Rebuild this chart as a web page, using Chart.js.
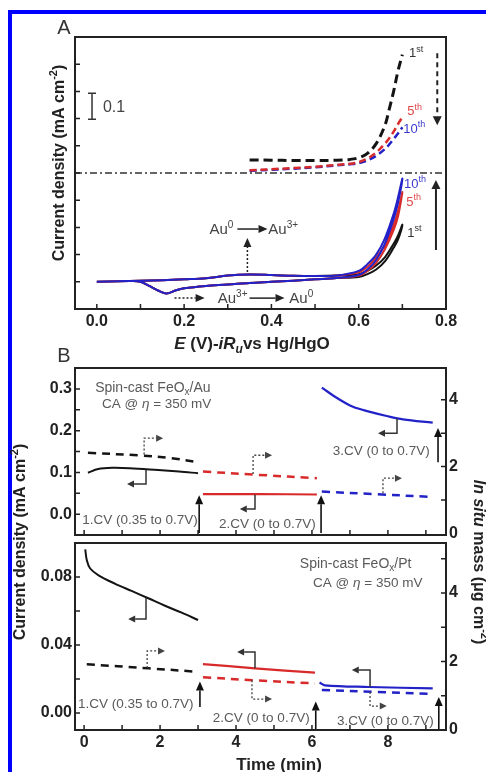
<!DOCTYPE html>
<html><head><meta charset="utf-8">
<script src="https://cdn.jsdelivr.net/npm/chart.js@4.4.1/dist/chart.umd.min.js"></script>
<style>
html,body{margin:0;padding:0;background:#fff;width:486px;height:772px;overflow:hidden;}
#frame{position:absolute;left:8px;top:10px;width:478px;height:762px;border-left:4px solid #0000ff;border-top:4px solid #0000ff;box-sizing:border-box;}
canvas{position:absolute;left:0;top:0;}
</style></head><body>
<div id="frame"></div>
<canvas id="cA" width="486" height="772"></canvas>
<canvas id="cB1" width="486" height="772"></canvas>
<canvas id="cB2" width="486" height="772"></canvas>
<script>
// ================= Panel A data (E in V, current density in mA cm-2, offset stacks) =================
const cvE   = [0,0.05,0.1,0.15,0.2,0.25,0.3,0.35,0.4,0.45,0.5,0.55,0.6,0.62,0.64,0.66,0.68,0.69,0.7,
               0.69,0.68,0.66,0.64,0.62,0.6,0.55,0.5,0.45,0.4,0.35,0.3,0.25,0.2,0.18,0.16,0.14,0.12,0.1,0.08,0.05,0];
const cv1st = [-0.400,-0.398,-0.396,-0.394,-0.391,-0.387,-0.377,-0.373,-0.375,-0.378,-0.379,-0.377,-0.372,-0.360,-0.340,-0.310,-0.260,-0.230,-0.190,
               -0.245,-0.275,-0.325,-0.355,-0.372,-0.382,-0.386,-0.391,-0.396,-0.400,-0.404,-0.410,-0.415,-0.424,-0.432,-0.443,-0.432,-0.415,-0.400,-0.397,-0.398,-0.400];
const cv5th = [-0.400,-0.398,-0.396,-0.394,-0.391,-0.387,-0.377,-0.373,-0.375,-0.378,-0.379,-0.377,-0.365,-0.345,-0.310,-0.265,-0.190,-0.140,-0.070,
               -0.160,-0.210,-0.280,-0.330,-0.360,-0.378,-0.386,-0.391,-0.396,-0.400,-0.404,-0.410,-0.415,-0.424,-0.432,-0.443,-0.432,-0.415,-0.400,-0.397,-0.398,-0.400];
const cv10th= [-0.400,-0.398,-0.396,-0.394,-0.391,-0.387,-0.377,-0.373,-0.375,-0.378,-0.379,-0.377,-0.360,-0.335,-0.300,-0.240,-0.150,-0.090,-0.020,
               -0.110,-0.170,-0.260,-0.320,-0.355,-0.375,-0.386,-0.391,-0.396,-0.400,-0.404,-0.410,-0.415,-0.424,-0.432,-0.443,-0.432,-0.415,-0.400,-0.397,-0.398,-0.400];
const scanE    = [0.35,0.4,0.45,0.5,0.55,0.58,0.6,0.62,0.64,0.66,0.67,0.68,0.69,0.7];
const scan1st  = [0.048,0.047,0.046,0.046,0.047,0.050,0.056,0.072,0.108,0.175,0.235,0.300,0.375,0.435];
const scan5th  = [0.010,0.014,0.018,0.023,0.030,0.034,0.040,0.053,0.075,0.108,0.128,0.152,0.180,0.205];
const scan10th = [0.008,0.012,0.016,0.021,0.028,0.032,0.036,0.046,0.063,0.088,0.105,0.125,0.145,0.168];
const baseE = [-0.05, 0.8];
const baseJ = [0, 0];
const axA_xTicks  = [0, 0.2, 0.4, 0.6, 0.8];
const axA_xLabels = ['0.0','0.2','0.4','0.6','0.8'];
const axA_xMinor  = [0.1, 0.3, 0.5, 0.7];
const axA_yTicks  = [-0.4,-0.3,-0.2,-0.1,0,0.1,0.2,0.3,0.4];

// ================= Panel B data (time in min) =================
// FeOx/Au
const auT1  = [0.1,0.37,0.74,1.2,1.95,2.5,3.0];
const auJ1  = [0.099,0.108,0.111,0.110,0.1055,0.102,0.098];
const auTm1 = [0.1,1.5,2.3,3.0];
const auM1  = [2.41,2.33,2.25,2.13];
const auT2  = [3.13,4.6,6.13];
const auJ2  = [0.048,0.048,0.047];
const auM2  = [1.85,1.75,1.65];
const auT3  = [6.26,6.66,7.08,7.53,7.97,8.4,9.18];
const auJ3  = [0.303,0.278,0.257,0.245,0.235,0.227,0.219];
const auTm3 = [6.26,7.7,9.18];
const auM3  = [1.25,1.17,1.09];
// FeOx/Pt
const ptT1  = [0.03,0.07,0.16,0.38,0.82,1.25,1.69,2.13,2.57,3.0];
const ptJ1  = [0.0963,0.090,0.085,0.081,0.076,0.0718,0.0675,0.0631,0.059,0.0547];
const ptTm1 = [0.07,1.7,3.0];
const ptM1  = [1.92,1.80,1.70];
const ptT2  = [3.13,4.5,6.08];
const ptJ2  = [0.0288,0.0263,0.0237];
const ptM2  = [1.54,1.45,1.36];
const ptT3  = [6.2,6.34,7.5,9.18];
const ptJ3  = [0.0179,0.0163,0.0153,0.0145];
const ptTm3 = [6.26,7.7,9.18];
const ptM3  = [1.17,1.11,1.05];

const axB_xTicks  = [0,2,4,6,8];
const axB_xLabels = ['0','2','4','6','8'];
const axB_xMinor  = [1,3,5,7,9];
const axB1_yTicks  = [0,0.1,0.2,0.3];
const axB1_yLabels = ['0.0','0.1','0.2','0.3'];
const axB1_yMinor  = [0.05,0.15,0.25];
const axB2_yTicks  = [0,0.04,0.08];
const axB2_yLabels = ['0.00','0.04','0.08'];
const axB2_yMinor  = [0.02,0.06];
const axB_rTicks   = [0,2,4];
const axB_rLabels  = ['0','2','4'];
const axB1_rMinor  = [1,3];
const axB2_rMinor  = [1,3,5];

// ================= styling helpers =================
const BLACK = '#141414', RED = '#d82a2a', BLUE = '#2222c8';
const RED_T = '#e04848', BLUE_T = '#3a3ad0';
const FAM = "'Liberation Sans', Arial, Helvetica, sans-serif";
const zip = (xs, ys) => xs.map((x, i) => ({x: x, y: ys[i]}));

function line(xs, ys, color, w, dash, axis) {
  return {data: zip(xs, ys), borderColor: color, borderWidth: w, borderDash: dash || [],
          showLine: true, pointRadius: 0, fill: false, tension: 0.35, yAxisID: axis || 'y'};
}
function linScale(pos, min, max, ticks, labels, size, show) {
  return {
    type: 'linear', position: pos, min: min, max: max,
    afterBuildTicks: s => { s.ticks = ticks.map(v => ({value: v})); },
    afterFit: s => { if (pos === 'bottom') s.height = size; else s.width = size; },
    grid: {display: false, drawTicks: false},
    border: {display: false},
    ticks: {display: show, autoSkip: false, maxRotation: 0, padding: 3, color: '#222',
            font: {family: FAM, size: 16, weight: 'bold'},
            callback: (v, i) => labels ? labels[i] : ''}
  };
}
function rich(ctx, x, cy, parts, o) {
  const size = o.size;
  const font = p => (p.i ? 'italic ' : '') + (o.bold ? 'bold ' : '') +
                    ((p.sup || p.sub) ? Math.round(size * 0.68) : size) + 'px ' + FAM;
  let w = 0;
  for (const p of parts) { ctx.font = font(p); w += ctx.measureText(p.t).width; }
  let cx = o.align === 'center' ? x - w / 2 : (o.align === 'right' ? x - w : x);
  const base = cy + size * 0.35;
  ctx.fillStyle = o.color; ctx.textAlign = 'left'; ctx.textBaseline = 'alphabetic';
  for (const p of parts) {
    ctx.font = font(p);
    const dy = p.sup ? -size * 0.4 : (p.sub ? size * 0.22 : 0);
    ctx.fillText(p.t, cx, base + dy);
    cx += ctx.measureText(p.t).width;
  }
}
function richRot(ctx, cx, cy, ang, parts, o) {
  ctx.save(); ctx.translate(cx, cy); ctx.rotate(ang);
  rich(ctx, 0, 0, parts, Object.assign({}, o, {align: 'center'}));
  ctx.restore();
}
function arrow(ctx, pts, o) {
  ctx.save();
  ctx.strokeStyle = o.color; ctx.fillStyle = o.color; ctx.lineWidth = o.lw;
  ctx.setLineDash(o.dash || []);
  const n = pts.length, ex = pts[n-1][0], ey = pts[n-1][1], px = pts[n-2][0], py = pts[n-2][1];
  const ang = Math.atan2(ey - py, ex - px), hl = o.hl, hw = o.hw;
  const c = Math.cos(ang), s = Math.sin(ang);
  ctx.beginPath(); ctx.moveTo(pts[0][0], pts[0][1]);
  for (let i = 1; i < n - 1; i++) ctx.lineTo(pts[i][0], pts[i][1]);
  ctx.lineTo(ex - c * hl, ey - s * hl);
  ctx.stroke();
  ctx.setLineDash([]);
  ctx.beginPath(); ctx.moveTo(ex, ey);
  ctx.lineTo(ex - c * hl - s * hw, ey - s * hl + c * hw);
  ctx.lineTo(ex - c * hl + s * hw, ey - s * hl - c * hw);
  ctx.closePath(); ctx.fill();
  ctx.restore();
}
function frame(chart) {
  const ctx = chart.ctx, a = chart.chartArea;
  ctx.save(); ctx.strokeStyle = '#222'; ctx.lineWidth = 2;
  ctx.strokeRect(a.left, a.top, a.right - a.left, a.bottom - a.top);
  ctx.restore();
}
function ticksIn(chart, id, vals, len) {
  const ctx = chart.ctx, a = chart.chartArea, sc = chart.scales[id];
  ctx.save(); ctx.strokeStyle = '#222'; ctx.lineWidth = 1.5; ctx.beginPath();
  for (const v of vals) {
    const p = sc.getPixelForValue(v);
    if (sc.isHorizontal()) { ctx.moveTo(p, a.bottom); ctx.lineTo(p, a.bottom - len); }
    else if (sc.position === 'right') { ctx.moveTo(a.right, p); ctx.lineTo(a.right - len, p); }
    else { ctx.moveTo(a.left, p); ctx.lineTo(a.left + len, p); }
  }
  ctx.stroke(); ctx.restore();
}

// ================= annotation layout (data coordinates) =================
const annA = {
  cycles: [
    {x:0.715, y:0.443, n:'1',  s:'st', c:'#333'},
    {x:0.711, y:0.230, n:'5',  s:'th', c:RED_T},
    {x:0.702, y:0.165, n:'10', s:'th', c:BLUE_T},
    {x:0.704, y:-0.037, n:'10', s:'th', c:BLUE_T},
    {x:0.709, y:-0.103, n:'5',  s:'th', c:RED_T},
    {x:0.711, y:-0.217, n:'1',  s:'st', c:'#333'}
  ],
  texts: [
    {x:0.258, y:-0.206, parts:[{t:'Au'},{t:'0',sup:1}]},
    {x:0.393, y:-0.206, parts:[{t:'Au'},{t:'3+',sup:1}]},
    {x:0.277, y:-0.460, parts:[{t:'Au'},{t:'3+',sup:1}]},
    {x:0.441, y:-0.460, parts:[{t:'Au'},{t:'0',sup:1}]}
  ],
  arrows: [
    {pts:[[0.780,0.440],[0.780,0.176]], dash:[5,4], lw:2, hl:9, hw:4.5},
    {pts:[[0.777,-0.283],[0.777,-0.026]], lw:2, hl:9, hw:4.5},
    {pts:[[0.345,-0.364],[0.345,-0.239]], dash:[2,2], lw:1.5, hl:9, hw:4},
    {pts:[[0.322,-0.206],[0.391,-0.206]], lw:1.5, hl:9, hw:4},
    {pts:[[0.178,-0.460],[0.247,-0.460]], dash:[2,2], lw:1.5, hl:9, hw:4},
    {pts:[[0.350,-0.460],[0.430,-0.460]], lw:1.5, hl:9, hw:4}
  ],
  bar: {x:-0.011, y0:0.198, y1:0.293, tx:0.014, ty:0.245}
};
const annB1 = {
  texts: [
    {x:0.29, y:0.304, parts:[{t:'Spin-cast FeO'},{t:'x',sub:1},{t:'/Au'}], size:14},
    {x:0.47, y:0.266, parts:[{t:'CA @ '},{t:'η',i:1},{t:' = 350 mV'}], size:13.5},
    {x:-0.05, y:-0.012, parts:[{t:'1.CV (0.35 to 0.7V)'}], size:13.5},
    {x:3.55, y:-0.0216, parts:[{t:'2.CV (0 to 0.7V)'}], size:13.5},
    {x:6.55, y:0.153, parts:[{t:'3.CV (0 to 0.7V)'}], size:13.5}
  ],
  arrows: [
    {pts:[[1.63,0.106],[1.63,0.0719],[1.13,0.0719]], k:'solid'},
    {pts:[[1.58,0.143],[1.58,0.182],[2.08,0.182]], k:'dot'},
    {pts:[[4.5,0.0465],[4.5,0.012],[4.1,0.012]], k:'solid'},
    {pts:[[4.45,0.096],[4.45,0.141],[4.95,0.141]], k:'dot'},
    {pts:[[8.24,0.229],[8.24,0.194],[7.74,0.194]], k:'solid'},
    {pts:[[7.87,0.050],[7.87,0.086],[8.37,0.086]], k:'dot'},
    {pts:[[3.03,-0.045],[3.03,0.045]], k:'cv'},
    {pts:[[6.24,-0.045],[6.24,0.045]], k:'cv'},
    {pts:[[9.32,0.1245],[9.32,0.206]], k:'cv'}
  ]
};
const annB2 = {
  texts: [
    {x:5.68, y:0.0882, parts:[{t:'Spin-cast FeO'},{t:'x',sub:1},{t:'/Pt'}], size:14},
    {x:6.03, y:0.0771, parts:[{t:'CA @ '},{t:'η',i:1},{t:' = 350 mV'}], size:13.5},
    {x:-0.16, y:0.0059, parts:[{t:'1.CV (0.35 to 0.7V)'}], size:13.5},
    {x:3.39, y:-0.0024, parts:[{t:'2.CV (0 to 0.7V)'}], size:13.5},
    {x:6.66, y:-0.0041, parts:[{t:'3.CV (0 to 0.7V)'}], size:13.5}
  ],
  arrows: [
    {pts:[[1.63,0.068],[1.63,0.0553],[1.16,0.0553]], k:'solid'},
    {pts:[[1.66,0.0265],[1.66,0.0365],[2.13,0.0365]], k:'dot'},
    {pts:[[4.5,0.0263],[4.5,0.0359],[4.03,0.0359]], k:'solid'},
    {pts:[[4.42,0.0192],[4.42,0.0082],[4.95,0.0082]], k:'dot'},
    {pts:[[7.53,0.0153],[7.53,0.0253],[7.05,0.0253]], k:'solid'},
    {pts:[[7.53,0.0124],[7.53,0.0041],[7.97,0.0041]], k:'dot'},
    {pts:[[3.05,0.0035],[3.05,0.0185]], k:'cv'},
    {pts:[[6.1,-0.0094],[6.1,0.0068]], k:'cv'},
    {pts:[[9.34,-0.0094],[9.34,0.0094]], k:'cv'}
  ]
};
const ARROW_STYLE = {
  solid: {lw:1.5, hl:7, hw:3.5, color:'#333'},
  dot:   {lw:1.3, hl:7, hw:3.5, color:'#444', dash:[2,2]},
  cv:    {lw:1.6, hl:9, hw:4, color:'#111'}
};

// ================= Panel A chart =================
function decoA(chart) {
  const ctx = chart.ctx;
  const X = v => chart.scales.x.getPixelForValue(v), Y = v => chart.scales.y.getPixelForValue(v);
  frame(chart);
  ticksIn(chart, 'x', axA_xTicks.concat(axA_xMinor).filter(v => v < 0.8), 5);
  ticksIn(chart, 'y', axA_yTicks, 5);
  for (const c of annA.cycles)
    rich(ctx, X(c.x), Y(c.y), [{t:c.n},{t:c.s,sup:1}], {size:13, color:c.c});
  for (const t of annA.texts)
    rich(ctx, X(t.x), Y(t.y), t.parts, {size:15, color:'#444'});
  for (const a of annA.arrows)
    arrow(ctx, a.pts.map(p => [X(p[0]), Y(p[1])]), {lw:a.lw, hl:a.hl, hw:a.hw, dash:a.dash, color:'#222'});
  const b = annA.bar, bx = X(b.x);
  ctx.save(); ctx.strokeStyle = '#333'; ctx.lineWidth = 1.5; ctx.beginPath();
  ctx.moveTo(bx, Y(b.y0)); ctx.lineTo(bx, Y(b.y1));
  ctx.moveTo(bx - 4, Y(b.y0)); ctx.lineTo(bx + 4, Y(b.y0));
  ctx.moveTo(bx - 4, Y(b.y1)); ctx.lineTo(bx + 4, Y(b.y1));
  ctx.stroke(); ctx.restore();
  rich(ctx, X(b.tx), Y(b.ty), [{t:'0.1'}], {size:16, color:'#444'});
  // panel letter and axis titles
  rich(ctx, 64, 27, [{t:'A'}], {size:20, color:'#333', align:'center'});
  richRot(ctx, 58, 163, -Math.PI/2, [{t:'Current density (mA cm'},{t:'-2',sup:1},{t:')'}], {size:16, bold:1, color:'#222'});
  rich(ctx, 252, 343, [{t:'E',i:1},{t:' (V)-'},{t:'iR',i:1},{t:'u',i:1,sub:1},{t:'vs Hg/HgO'}], {size:17, bold:1, color:'#222', align:'center'});
}
new Chart(document.getElementById('cA'), {
  type: 'scatter',
  data: {datasets: [
    line(cvE, cv10th, BLUE, 2),
    line(cvE, cv5th, RED, 2),
    line(cvE, cv1st, BLACK, 2),
    line(scanE, scan1st, BLACK, 3, [9,5]),
    line(scanE, scan5th, RED, 2.5, [7,4]),
    line(scanE, scan10th, BLUE, 2.5, [7,4]),
    Object.assign(line(baseE, baseJ, '#333', 1.5, [7,3,2,3]), {tension:0})
  ]},
  options: {
    responsive: false, animation: false, events: [],
    layout: {padding: {left: 0, right: 40, top: 37, bottom: 772 - 309 - 40}},
    plugins: {legend: {display: false}, tooltip: {enabled: false}},
    scales: {
      x: linScale('bottom', -0.05, 0.8, axA_xTicks, axA_xLabels, 40, true),
      y: linScale('left', -0.5, 0.5, axA_yTicks, null, 75, false)
    }
  },
  plugins: [{id: 'decoA', afterDraw: decoA}]
});

// ================= Panel B charts =================
function decoB(ann, yMinor, rMinor, extra) {
  return function(chart) {
    const ctx = chart.ctx;
    const X = v => chart.scales.x.getPixelForValue(v), Y = v => chart.scales.y.getPixelForValue(v);
    frame(chart);
    ticksIn(chart, 'x', axB_xTicks.concat(axB_xMinor), 5);
    ticksIn(chart, 'y', chart.scales.y.ticks.map(t => t.value).concat(yMinor), 5);
    ticksIn(chart, 'y2', axB_rTicks.concat(rMinor).filter(v => v > 0), 5);
    for (const t of ann.texts)
      rich(ctx, X(t.x), Y(t.y), t.parts, {size:t.size, color:'#5a5a5a'});
    for (const a of ann.arrows)
      arrow(ctx, a.pts.map(p => [X(p[0]), Y(p[1])]), ARROW_STYLE[a.k]);
    if (extra) extra(ctx);
  };
}
function bChart(id, top, bottom, xH, showX, yMin, yMax, yT, yL, rMax, ds, deco) {
  return new Chart(document.getElementById(id), {
    type: 'scatter',
    data: {datasets: ds},
    options: {
      responsive: false, animation: false, events: [],
      layout: {padding: {left: 0, right: 0, top: top, bottom: 772 - bottom - xH}},
      plugins: {legend: {display: false}, tooltip: {enabled: false}},
      scales: {
        x: linScale('bottom', -0.24, 9.53, axB_xTicks, axB_xLabels, xH, showX),
        y: linScale('left', yMin, yMax, yT, yL, 75, true),
        y2: linScale('right', rMax[0], rMax[1], axB_rTicks, axB_rLabels, 40, true)
      }
    },
    plugins: [{id: 'deco' + id, afterDraw: deco}]
  });
}
bChart('cB1', 368, 535, 2, false, -0.05, 0.35, axB1_yTicks, axB1_yLabels, [-0.05, 4.95], [
  line(auT3, auJ3, BLUE, 2.2),
  line(auTm3, auM3, BLUE, 2.5, [8,6], 'y2'),
  line(auT2, auJ2, RED, 2.2),
  line(auT2, auM2, RED, 2.5, [8,6], 'y2'),
  line(auT1, auJ1, BLACK, 2),
  line(auTm1, auM1, BLACK, 2.5, [8,6], 'y2')
], decoB(annB1, axB1_yMinor, axB1_rMinor, ctx => {
  rich(ctx, 64, 355, [{t:'B'}], {size:20, color:'#333', align:'center'});
  richRot(ctx, 19, 542, -Math.PI/2, [{t:'Current density (mA cm'},{t:'-2',sup:1},{t:')'}], {size:16, bold:1, color:'#222'});
  richRot(ctx, 480, 562, Math.PI/2, [{t:'In situ',i:1},{t:' mass (μg cm'},{t:'-2',sup:1},{t:')'}], {size:16, bold:1, color:'#222'});
}));
bChart('cB2', 543, 730, 30, true, -0.01, 0.10, axB2_yTicks, axB2_yLabels, [0, 5.46], [
  line(ptT3, ptJ3, BLUE, 2.2),
  line(ptTm3, ptM3, BLUE, 2.5, [8,6], 'y2'),
  line(ptT2, ptJ2, RED, 2.2),
  line(ptT2, ptM2, RED, 2.5, [8,6], 'y2'),
  line(ptT1, ptJ1, BLACK, 2),
  line(ptTm1, ptM1, BLACK, 2.5, [8,6], 'y2')
], decoB(annB2, axB2_yMinor, axB2_rMinor, ctx => {
  rich(ctx, 279, 764, [{t:'Time (min)'}], {size:17, bold:1, color:'#222', align:'center'});
}));
</script></body></html>
